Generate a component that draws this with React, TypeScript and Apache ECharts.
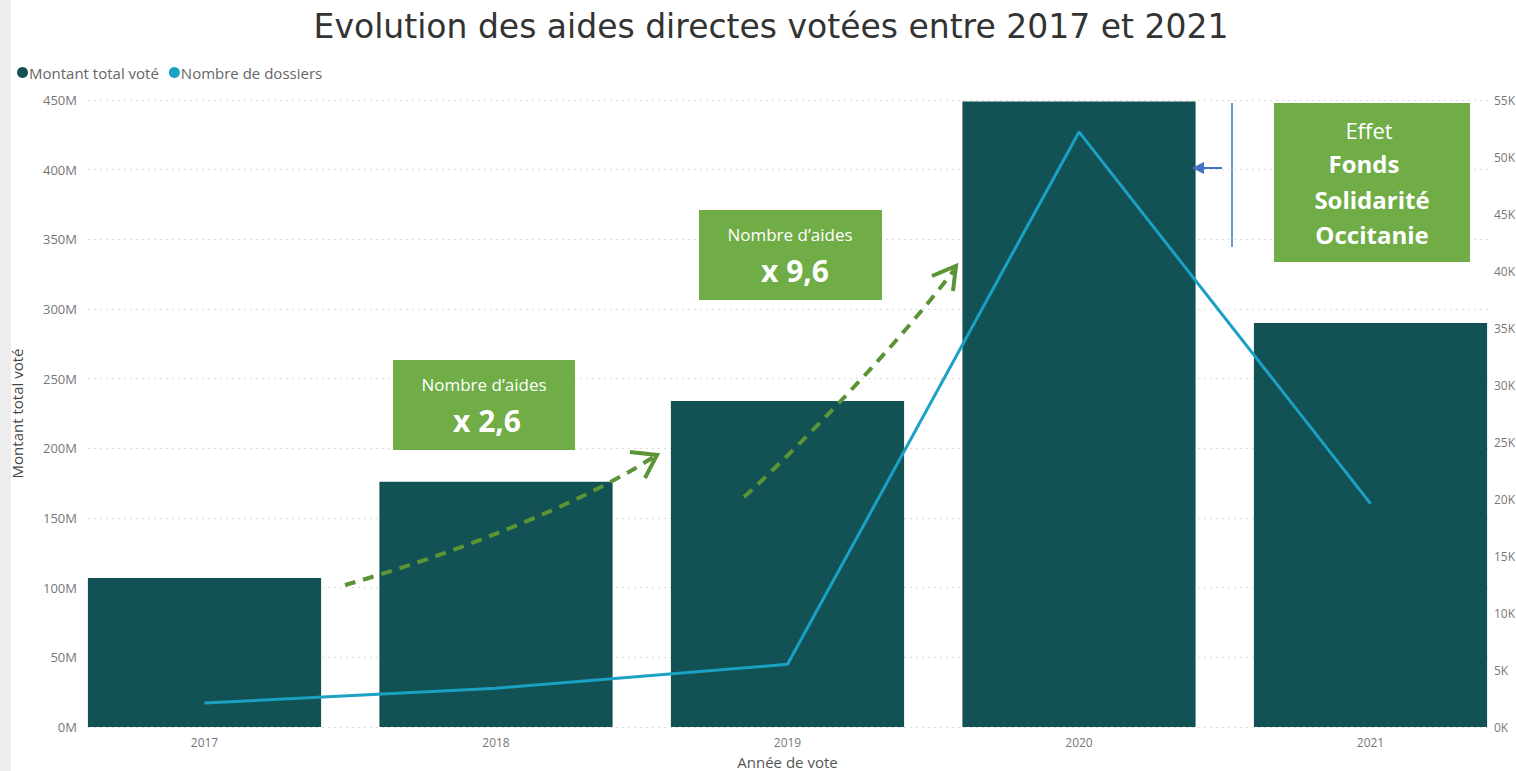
import React, { useEffect, useRef } from "react";
import * as echarts from "echarts";

const years = ["2017", "2018", "2019", "2020", "2021"];
const montantVote = [107e6, 176e6, 234e6, 449e6, 290e6];
const nombreDossiers = [2100, 3400, 5500, 52200, 19600];

const leftMax = 450e6;
const leftInterval = 50e6;
const rightMax = 55000;
const rightInterval = 5000;

const titleText = "Evolution des aides directes votées entre 2017 et 2021";
const seriesNames = ["Montant total voté", "Nombre de dossiers"];

const barColor = "#135254";
const lineColor = "#1AA1C4";
const boxGreen = "#70AD47";
const dashGreen = "#5A9434";
const boxFont = "Open Sans";

export default function App() {
  const ref = useRef<HTMLDivElement>(null);
  useEffect(() => {
    if (!ref.current) return;
    const chart = echarts.init(ref.current, null, { renderer: "svg" });
    const W = 1516;
    const axisLabelStyle = { color: "#777", fontSize: 12, fontFamily: "Open Sans" };
    const option: any = {
      animation: false,
      backgroundColor: "#fff",
      title: {
        text: titleText,
        left: 766,
        top: 5,
        textAlign: "center",
        textStyle: { fontSize: 33, fontWeight: "normal", color: "#333", fontFamily: "DejaVu Sans" },
      },
      legend: {
        left: 12,
        top: 60,
        icon: "circle",
        itemWidth: 11,
        itemHeight: 11,
        itemGap: 10,
        textStyle: { color: "#666", fontSize: 15, fontFamily: "Open Sans", padding: [0, 0, 0, -4] },
        data: seriesNames,
      },
      grid: [
        { left: 58.75, right: W - 1516.25, top: 100, bottom: 44, outerBoundsMode: "none", containLabel: false },
        { left: 88, right: W - 1489, top: 100, bottom: 44, outerBoundsMode: "none", containLabel: false },
      ],
      xAxis: [
        {
          type: "category",
          gridIndex: 0,
          data: years,
          axisLine: { show: false },
          axisTick: { show: false },
          axisLabel: { ...axisLabelStyle, margin: 9 },
          name: "Année de vote",
          nameLocation: "middle",
          nameGap: 27,
          nameTextStyle: { color: "#555", fontSize: 15, fontFamily: "Open Sans" },
        },
        { type: "value", gridIndex: 1, show: false, min: 0, max: 1 },
      ],
      yAxis: [
        { type: "value", gridIndex: 0, show: false, min: 0, max: leftMax, interval: leftInterval },
        { type: "value", gridIndex: 0, show: false, min: 0, max: rightMax, interval: rightInterval },
        {
          type: "value",
          gridIndex: 1,
          position: "left",
          min: 0,
          max: leftMax,
          interval: leftInterval,
          axisLine: { show: false },
          axisTick: { show: false },
          axisLabel: { ...axisLabelStyle, fontSize: 13, margin: 11, formatter: (v: number) => v / 1e6 + "M" },
          splitLine: { show: true, lineStyle: { color: "#DADADA", type: [2, 4], width: 1 } },
          name: "Montant total voté",
          nameLocation: "middle",
          nameRotate: 90,
          nameGap: 64,
          nameTextStyle: { color: "#444", fontSize: 15, fontFamily: "Open Sans" },
        },
        {
          type: "value",
          gridIndex: 1,
          position: "right",
          min: 0,
          max: rightMax,
          interval: rightInterval,
          axisLine: { show: false },
          axisTick: { show: false },
          axisLabel: { ...axisLabelStyle, margin: 5, formatter: (v: number) => v / 1000 + "K" },
          splitLine: { show: false },
        },
      ],
      series: [
        {
          name: seriesNames[0],
          type: "bar",
          xAxisIndex: 0,
          yAxisIndex: 0,
          data: montantVote,
          barCategoryGap: "20%",
          itemStyle: { color: barColor },
          z: 2,
        },
        {
          name: seriesNames[1],
          type: "line",
          xAxisIndex: 0,
          yAxisIndex: 1,
          data: nombreDossiers,
          symbol: "none",
          itemStyle: { color: lineColor },
          lineStyle: { color: lineColor, width: 3 },
          z: 3,
        },
      ],
      graphic: [
        { type: "rect", shape: { x: 0, y: 0, width: 11, height: 771 }, style: { fill: "#EDEDED" }, z: 0 },
        // dashed arrow 1
        {
          type: "bezierCurve",
          shape: { x1: 345, y1: 585, cpx1: 450, cpy1: 555, cpx2: 580, cpy2: 505, x2: 655, y2: 456 },
          style: { stroke: dashGreen, lineWidth: 4, lineDash: [11, 8], fill: null },
          z: 50,
        },
        {
          type: "polyline",
          shape: { points: [[630, 452], [657, 455], [645, 478]] },
          style: { stroke: dashGreen, lineWidth: 4, fill: null },
          z: 50,
        },
        // dashed arrow 2
        {
          type: "bezierCurve",
          shape: { x1: 744, y1: 497, cpx1: 780, cpy1: 465, cpx2: 890, cpy2: 355, x2: 954, y2: 270 },
          style: { stroke: dashGreen, lineWidth: 4, lineDash: [11, 8], fill: null },
          z: 50,
        },
        {
          type: "polyline",
          shape: { points: [[932, 276], [956, 266], [953, 291]] },
          style: { stroke: dashGreen, lineWidth: 4, fill: null },
          z: 50,
        },
        // box 1
        { type: "rect", shape: { x: 393, y: 360, width: 182, height: 90 }, style: { fill: boxGreen }, z: 60 },
        {
          type: "text",
          x: 484,
          y: 384,
          style: { text: "Nombre d’aides", fill: "#fff", font: `17px '${boxFont}'`, align: "center", verticalAlign: "middle" },
          z: 61,
        },
        {
          type: "text",
          x: 487,
          y: 420,
          style: { text: "x 2,6", fill: "#fff", font: `bold 30px '${boxFont}'`, align: "center", verticalAlign: "middle" },
          z: 61,
        },
        // box 2
        { type: "rect", shape: { x: 699, y: 210, width: 183, height: 90 }, style: { fill: boxGreen }, z: 60 },
        {
          type: "text",
          x: 790,
          y: 234,
          style: { text: "Nombre d’aides", fill: "#fff", font: `17px '${boxFont}'`, align: "center", verticalAlign: "middle" },
          z: 61,
        },
        {
          type: "text",
          x: 795,
          y: 270,
          style: { text: "x 9,6", fill: "#fff", font: `bold 30px '${boxFont}'`, align: "center", verticalAlign: "middle" },
          z: 61,
        },
        // box 3
        { type: "rect", shape: { x: 1274, y: 103, width: 196, height: 159 }, style: { fill: boxGreen }, z: 60 },
        {
          type: "text",
          x: 1369,
          y: 130,
          style: { text: "Effet", fill: "#fff", font: `22px '${boxFont}'`, align: "center", verticalAlign: "middle" },
          z: 61,
        },
        {
          type: "text",
          x: 1364,
          y: 163,
          style: { text: "Fonds", fill: "#fff", font: `bold 24px '${boxFont}'`, align: "center", verticalAlign: "middle" },
          z: 61,
        },
        {
          type: "text",
          x: 1372,
          y: 199,
          style: { text: "Solidarité", fill: "#fff", font: `bold 24px '${boxFont}'`, align: "center", verticalAlign: "middle" },
          z: 61,
        },
        {
          type: "text",
          x: 1372,
          y: 234,
          style: { text: "Occitanie", fill: "#fff", font: `bold 24px '${boxFont}'`, align: "center", verticalAlign: "middle" },
          z: 61,
        },
        // blue bracket line and arrow
        {
          type: "line",
          shape: { x1: 1232, y1: 103, x2: 1232, y2: 247 },
          style: { stroke: "#4472C4", lineWidth: 1.5 },
          z: 60,
        },
        {
          type: "line",
          shape: { x1: 1222, y1: 168, x2: 1200, y2: 168 },
          style: { stroke: "#4472C4", lineWidth: 2 },
          z: 60,
        },
        {
          type: "polygon",
          shape: { points: [[1192, 168], [1204, 162], [1204, 174]] },
          style: { fill: "#4472C4" },
          z: 60,
        },
      ],
    };
    chart.setOption(option);
    return () => chart.dispose();
  }, []);
  return (
    <div style={{ position: "fixed", left: 0, top: 0, width: 1516, height: 771, overflow: "hidden", background: "#fff" }}>
      <div ref={ref} style={{ width: 1516, height: 771 }} />
    </div>
  );
}
